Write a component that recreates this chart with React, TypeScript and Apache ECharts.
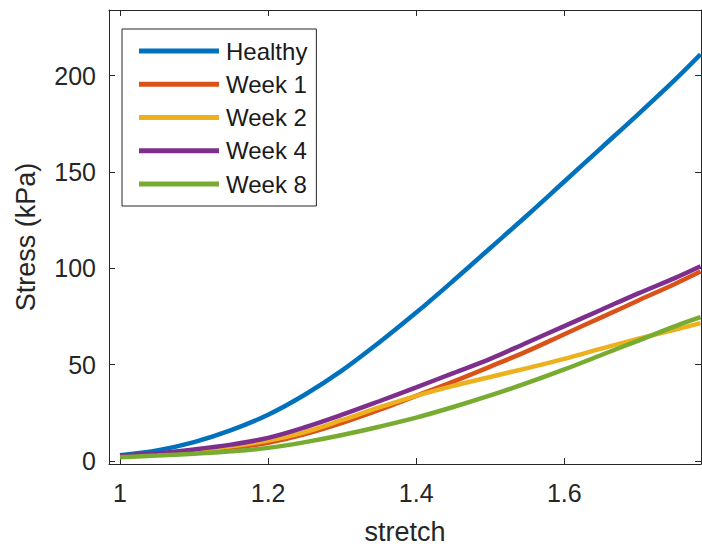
import React, { useEffect, useRef } from "react";
import * as echarts from "echarts";

const stretch = [1.0, 1.05, 1.1, 1.15, 1.2, 1.25, 1.3, 1.35, 1.4, 1.45, 1.5, 1.55, 1.6, 1.65, 1.7, 1.75, 1.784];
const healthy = [3, 5.5, 9.8, 16, 24, 34.5, 47, 61.5, 77, 93.5, 110.5, 127.5, 145, 162.5, 180, 198, 211];
const week1 = [2.5, 3.3, 4.8, 6.8, 9.5, 14, 19.8, 26.5, 33.8, 41.2, 49, 57, 65.8, 74.5, 83.3, 92, 98.3];
const week2 = [2.5, 3.5, 5.2, 7.6, 10.6, 15, 21.3, 27.8, 33.8, 39, 43.6, 48.2, 53, 58.3, 63.4, 68.2, 71.5];
const week4 = [2.8, 4, 6, 8.5, 12, 17.5, 24, 31, 38.2, 45.6, 53, 61.5, 70, 78.5, 87, 95, 101];
const week8 = [2, 2.8, 3.8, 5, 6.8, 9.8, 13.5, 17.8, 22.5, 28, 34, 40.5, 47.5, 55, 62.5, 70, 74.6];

const seriesNames = ["Healthy", "Week 1", "Week 2", "Week 4", "Week 8"];
const seriesColors = ["#0072BD", "#D95319", "#EDB120", "#7E2F8E", "#77AC30"];
const seriesData = [healthy, week1, week2, week4, week8];

const xTicks = [1, 1.2, 1.4, 1.6];
const yTicks = [0, 50, 100, 150, 200];

const FONT = "'Liberation Sans', Arial, Helvetica, sans-serif";
const AXIS = "#262626";

export default function App() {
  const ref = useRef<HTMLDivElement>(null);
  useEffect(() => {
    if (!ref.current) return;
    const chart = echarts.init(ref.current, undefined, { renderer: "svg" });
    const xMin = 0.9851;
    const xMax = 1.7846;
    const yMin = -1.56;
    const yMax = 234;
    const tickCommon = { inside: true, length: 6, lineStyle: { color: AXIS, width: 1 } };
    chart.setOption({
      animation: false,
      backgroundColor: "#ffffff",
      textStyle: { fontFamily: FONT },
      grid: { left: 109, right: 1, top: 10, bottom: 89, containLabel: false },
      legend: {
        orient: "vertical",
        left: 122,
        top: 29,
        padding: [10, 9, 10, 17],
        itemGap: 9.25,
        itemWidth: 80,
        itemHeight: 5,
        icon: "rect",
        backgroundColor: "#ffffff",
        borderColor: AXIS,
        borderWidth: 1,
        borderRadius: 0,
        textStyle: { fontFamily: FONT, fontSize: 24, color: "#1a1a1a", lineHeight: 24, padding: [0, 0, 0, 2] },
        data: seriesNames,
      },
      xAxis: [
        {
          type: "value",
          min: xMin,
          max: xMax,
          position: "bottom",
          name: "stretch",
          nameLocation: "middle",
          nameGap: 54,
          nameTextStyle: { fontFamily: FONT, fontSize: 27, color: AXIS },
          axisLine: { show: true, onZero: false, lineStyle: { color: AXIS, width: 1 } },
          axisTick: { ...tickCommon, customValues: xTicks },
          axisLabel: { customValues: xTicks, fontFamily: FONT, fontSize: 25, color: AXIS, margin: 16 },
          splitLine: { show: false },
        },
        {
          type: "value",
          min: xMin,
          max: xMax,
          position: "top",
          axisLine: { show: true, onZero: false, lineStyle: { color: AXIS, width: 1 } },
          axisTick: { ...tickCommon, customValues: xTicks },
          axisLabel: { show: false },
          splitLine: { show: false },
        },
      ],
      yAxis: [
        {
          type: "value",
          min: yMin,
          max: yMax,
          position: "left",
          name: "Stress (kPa)",
          nameLocation: "middle",
          nameGap: 70,
          nameTextStyle: { fontFamily: FONT, fontSize: 27, color: AXIS },
          axisLine: { show: true, onZero: false, lineStyle: { color: AXIS, width: 1 } },
          axisTick: { ...tickCommon, customValues: yTicks },
          axisLabel: { customValues: yTicks, fontFamily: FONT, fontSize: 25, color: AXIS, margin: 13 },
          splitLine: { show: false },
        },
        {
          type: "value",
          min: yMin,
          max: yMax,
          position: "right",
          axisLine: { show: true, onZero: false, lineStyle: { color: AXIS, width: 1 } },
          axisTick: { ...tickCommon, customValues: yTicks },
          axisLabel: { show: false },
          splitLine: { show: false },
        },
      ],
      series: seriesNames.map((name, i) => ({
        name,
        type: "line",
        xAxisIndex: 0,
        yAxisIndex: 0,
        data: stretch.map((x, j) => [x, seriesData[i][j]]),
        smooth: 0.35,
        showSymbol: false,
        symbol: "none",
        clip: true,
        color: seriesColors[i],
        lineStyle: { color: seriesColors[i], width: 4.5 },
        itemStyle: { color: seriesColors[i] },
      })),
    });
    return () => chart.dispose();
  }, []);
  return (
    <div
      ref={ref}
      style={{ position: "fixed", left: 0, top: 0, width: 702, height: 553, background: "#fff" }}
    />
  );
}
